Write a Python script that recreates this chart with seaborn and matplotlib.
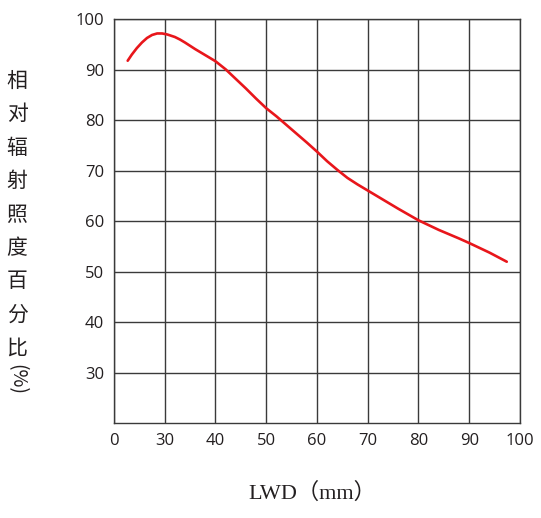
import matplotlib
matplotlib.use("Agg")
import matplotlib.pyplot as plt
import seaborn as sns
import pandas as pd

# values
lwd = [22.7, 23.5, 24.5, 25.5, 26.5, 27.5, 28.5, 29.5, 30.5, 32, 33, 34, 36, 38, 40,
       42, 44, 46, 48, 50, 52, 55, 58, 60, 62, 64, 66, 68, 70, 73, 76, 80,
       84, 88, 90, 94, 97.4]
irradiance = [91.8, 93.0, 94.3, 95.4, 96.3, 96.9, 97.2, 97.2, 97.0, 96.5, 96.0, 95.4,
              94.1, 92.9, 91.7, 90.1, 88.2, 86.3, 84.3, 82.4, 80.8, 78.2, 75.6, 73.8,
              71.9, 70.2, 68.6, 67.3, 66.1, 64.3, 62.5, 60.2, 58.3, 56.6, 55.7, 53.8, 52.0]
x_ticks = [20, 30, 40, 50, 60, 70, 80, 90, 100]
x_tick_labels = ["0", "30", "40", "50", "60", "70", "80", "90", "100"]
y_ticks = [30, 40, 50, 60, 70, 80, 90, 100]
y_label_chars = ["相", "对", "辐", "射", "照", "度", "百", "分", "比"]

df = pd.DataFrame({"LWD": lwd, "pct": irradiance})

sns.set_style("white")
plt.rcParams["font.family"] = ["Open Sans", "Noto Sans CJK SC", "DejaVu Sans"]

fig = plt.figure(figsize=(5.41, 5.18), dpi=100)
ax = fig.add_axes([0.2107, 0.1828, 0.7504, 0.7799])

sns.lineplot(data=df, x="LWD", y="pct", color="#e8161b", linewidth=1.9,
             solid_joinstyle="round", solid_capstyle="round", ax=ax)

ax.set_xlim(20, 100)
ax.set_ylim(20, 100)
ax.set_xticks(x_ticks)
ax.set_xticklabels(x_tick_labels)
ax.set_yticks(y_ticks)
ax.grid(True, color="#3a3a3a", linewidth=1.0)
for s in ax.spines.values():
    s.set_color("#3a3a3a")
    s.set_linewidth(1.0)
ax.tick_params(length=0, pad=7, labelsize=12, labelcolor="#231f20")
ax.set_xlabel("")
ax.set_ylabel("")

# vertical chinese y label
fig.text(17 / 541, 1 - 70 / 518, "\n".join(y_label_chars), ha="center", va="top",
         fontsize=15, linespacing=1.67, color="#231f20",
         family=["Noto Sans CJK SC", "DejaVu Sans"])
fig.text(17 / 541, 1 - 380 / 518, "(%)", ha="center", va="center", rotation=-90,
         fontsize=14, color="#231f20", family=["Noto Sans CJK SC", "DejaVu Sans"])

fig.text(312 / 541, 1 - 493 / 518, "LWD（mm）", ha="center", va="center",
         fontsize=16, color="#231f20",
         family=["Liberation Serif", "Noto Sans CJK SC"])

fig.savefig("out.png", dpi=100)
